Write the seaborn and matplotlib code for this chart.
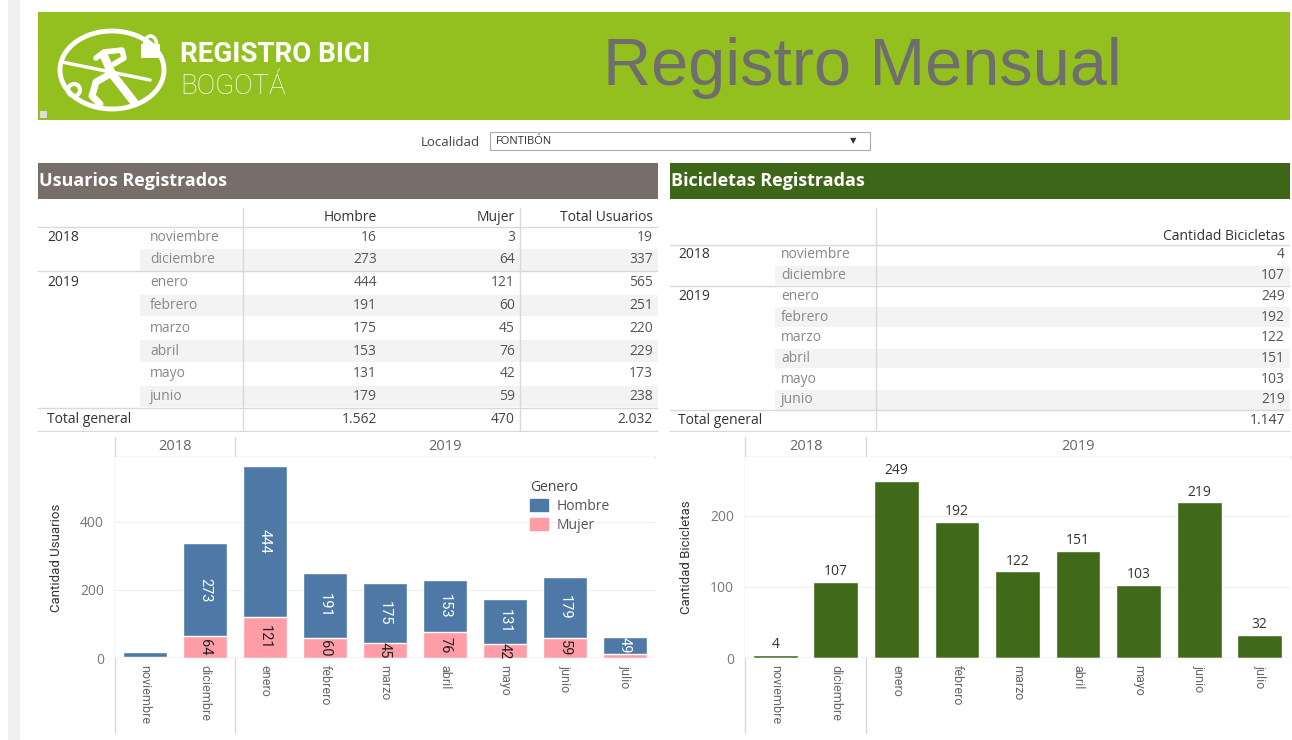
import pandas as pd
import seaborn as sns
import matplotlib.pyplot as plt
from matplotlib.patches import Rectangle, Ellipse, Arc, Circle, Patch

# datos del tablero (Localidad: FONTIBÓN)
meses = ['noviembre', 'diciembre', 'enero', 'febrero', 'marzo', 'abril', 'mayo', 'junio', 'julio']
anios = ['2018', '2018', '2019', '2019', '2019', '2019', '2019', '2019', '2019']
hombre = [16, 273, 444, 191, 175, 153, 131, 179, 49]
mujer = [3, 64, 121, 60, 45, 76, 42, 59, 13]
bicicletas = [4, 107, 249, 192, 122, 151, 103, 219, 32]
n_tabla = 8  # las tablas llegan hasta junio

AZUL = '#4E79A7'
ROSA = '#FF9DA7'
VERDE = '#41691A'
NARROW = ['Roboto', 'DejaVu Sans']

df = pd.DataFrame({'mes': meses, 'anio': anios, 'Hombre': hombre,
                   'Mujer': mujer, 'bicis': bicicletas})
df['total'] = df['Hombre'] + df['Mujer']

sns.set_theme(style='white')
plt.rcParams['font.family'] = ['Open Sans', 'DejaVu Sans']

W, H = 1292, 740
fig = plt.figure(figsize=(12.92, 7.40), dpi=100)
bg = fig.add_axes([0, 0, 1, 1])
bg.set_xlim(0, W)
bg.set_ylim(H, 0)
bg.axis('off')


def ax_at(x0, y0, x1, y1):
    return fig.add_axes([x0 / W, 1 - y1 / H, (x1 - x0) / W, (y1 - y0) / H])


def miles(v):
    return f'{v:,}'.replace(',', '.')


# franja izquierda
bg.add_patch(Rectangle((8, 0), 12, H, color='#F0F0F0', lw=0))

# encabezado
bg.add_patch(Rectangle((38, 12), 1252, 108, color='#93C01F', lw=0))
bg.add_patch(Rectangle((40, 111), 7, 7, color='#DDDDDD', lw=0))
bg.text(862, 68, 'Registro Mensual', fontsize=48, color='#6E6E6E',
        family='Liberation Sans', ha='center', va='center')

# logo
bg.add_patch(Ellipse((112, 70), 104, 78, fill=False, ec='white', lw=3.5))
bg.add_patch(Rectangle((141, 44), 19, 14, color='white', lw=0))
bg.add_patch(Arc((150.5, 44), 12, 16, theta1=180, theta2=360, color='white', lw=2.5))
bg.plot([62, 150], [62, 80], color='white', lw=2.5, solid_capstyle='round')
bg.plot([104, 112, 134], [56, 74, 102], color='white', lw=6, solid_capstyle='round')
bg.plot([96, 104, 122, 124, 114], [58, 52, 50, 58, 64], color='white', lw=4,
        solid_capstyle='round')
bg.plot([110, 96, 92, 100], [74, 82, 96, 104], color='white', lw=5, solid_capstyle='round')
bg.add_patch(Circle((74, 90), 6, fill=False, ec='white', lw=3))
bg.text(180, 54, 'REGISTRO BICI', fontsize=20, weight='bold', color='white',
        family=NARROW, va='center', ha='left')
bg.text(180, 86, 'BOGOTÁ', fontsize=20, weight='light', color='white',
        family=NARROW, va='center', ha='left')

# filtro
bg.text(480, 143, 'Localidad', fontsize=9.5, color='#444444', ha='right', va='center')
bg.add_patch(Rectangle((490, 132), 380, 18, facecolor='white', ec='#AAAAAA', lw=0.8))
bg.text(496, 141, 'FONTIBÓN', fontsize=8, color='#333333', va='center')
bg.text(853, 141, '▼', fontsize=6, color='#333333', va='center', ha='center',
        family='DejaVu Sans')

# titulos de seccion
bg.add_patch(Rectangle((38, 163), 620, 36, color='#776E6A', lw=0))
bg.text(39, 181, 'Usuarios Registrados', fontsize=13, weight='bold', color='white', va='center')
bg.add_patch(Rectangle((670, 163), 620, 36, color='#3E6618', lw=0))
bg.text(671, 181, 'Bicicletas Registradas', fontsize=13, weight='bold', color='white', va='center')

GRIS_L = '#D9D9D9'


def tabla_base(ax, x0, x1, xband, vlines, header_row):
    ax.set_xlim(x0, x1)
    ax.axis('off')
    for i in range(1, n_tabla, 2):
        ax.fill_between([xband, x1], i - 0.47, i + 0.47, color='#F3F3F3', lw=0)
    for yy in [header_row, 1.5, n_tabla - 0.5, n_tabla + 0.5]:
        ax.plot([x0, x1], [yy, yy], color=GRIS_L, lw=1)
    for xv in vlines:
        ax.axvline(xv, color=GRIS_L, lw=1)


# tabla usuarios
t1 = ax_at(38, 208, 658, 432)
t1.set_ylim(8.55, -1.28)
tabla_base(t1, 38, 658, 140, [243, 520], -0.45)
t1.text(377, -0.88, 'Hombre', ha='right', va='center', fontsize=10, color='#333333')
t1.text(515, -0.88, 'Mujer', ha='right', va='center', fontsize=10, color='#333333')
t1.text(653, -0.88, 'Total Usuarios', ha='right', va='center', fontsize=10, color='#333333')
prev = None
for i in range(n_tabla):
    if anios[i] != prev:
        t1.text(47, i, anios[i], va='center', fontsize=10, color='#333333')
        prev = anios[i]
    t1.text(150, i, meses[i], va='center', fontsize=10, color='#888888')
    t1.text(377, i, hombre[i], ha='right', va='center', fontsize=10, color='#555555')
    t1.text(515, i, mujer[i], ha='right', va='center', fontsize=10, color='#555555')
    t1.text(653, i, hombre[i] + mujer[i], ha='right', va='center', fontsize=10, color='#555555')
tot_h = sum(hombre[:n_tabla])
tot_m = sum(mujer[:n_tabla])
t1.text(47, n_tabla, 'Total general', va='center', fontsize=10, color='#333333')
t1.text(377, n_tabla, miles(tot_h), ha='right', va='center', fontsize=10, color='#444444')
t1.text(515, n_tabla, miles(tot_m), ha='right', va='center', fontsize=10, color='#444444')
t1.text(653, n_tabla, miles(tot_h + tot_m), ha='right', va='center', fontsize=10, color='#444444')

# tabla bicicletas
t2 = ax_at(670, 208, 1290, 432)
t2.set_ylim(8.55, -2.27)
tabla_base(t2, 670, 1290, 775, [876], -0.5)
t2.text(1285, -0.87, 'Cantidad Bicicletas', ha='right', va='center', fontsize=10, color='#333333')
prev = None
for i in range(n_tabla):
    if anios[i] != prev:
        t2.text(678, i, anios[i], va='center', fontsize=10, color='#333333')
        prev = anios[i]
    t2.text(781, i, meses[i], va='center', fontsize=10, color='#888888')
    t2.text(1285, i, bicicletas[i], ha='right', va='center', fontsize=10, color='#555555')
t2.text(678, n_tabla, 'Total general', va='center', fontsize=10, color='#333333')
t2.text(1285, n_tabla, miles(sum(bicicletas[:n_tabla])), ha='right', va='center',
        fontsize=10, color='#444444')


def estilo_grafico(ax, ymax, ticks, ylabel, x_left, x_right, x_div):
    ax.set_xlim(-0.5, len(meses) - 0.5)
    ax.set_ylim(0, ymax)
    ax.set_yticks(ticks)
    ax.tick_params(axis='y', labelsize=10, labelcolor='#777777', length=0, pad=8)
    ax.set_xticks(range(len(meses)))
    ax.set_xticklabels(meses, rotation=270, fontsize=9, color='#666666', family=NARROW)
    ax.tick_params(axis='x', length=0, pad=5)
    ax.set_xlabel('')
    ax.set_ylabel(ylabel, fontsize=9.5, color='#333333', family=NARROW)
    ax.yaxis.set_label_coords(-52 / (x_right - x_left), 0.5)
    for s in ax.spines.values():
        s.set_visible(False)
    ax.yaxis.grid(True, color='#EFEFEF', lw=0.8)
    ax.set_axisbelow(True)
    ax.axhline(0, color='#CCCCCC', lw=1)
    # encabezados de año sobre las columnas
    trans = ax.get_xaxis_transform()
    ax.text(0.5, 1.05, '2018', transform=trans, ha='center', va='center',
            fontsize=10.5, color='#666666')
    ax.text(5, 1.05, '2019', transform=trans, ha='center', va='center',
            fontsize=10.5, color='#666666')
    # lineas del marco
    bg.plot([x_left, x_left], [437, 733], color=GRIS_L, lw=1)
    bg.plot([x_div, x_div], [437, 733], color=GRIS_L, lw=1)
    bg.plot([x_left, x_right], [457, 457], color=GRIS_L, lw=1)


# grafico usuarios (apilado)
g1 = ax_at(115, 457, 655, 658)
sns.barplot(data=df, x='mes', y='total', color=AZUL, width=0.73, saturation=1, ax=g1)
sns.barplot(data=df, x='mes', y='Mujer', color=ROSA, width=0.73, saturation=1, ax=g1)
estilo_grafico(g1, 591, [0, 200, 400], 'Cantidad Usuarios', 115, 655, 235)
for i, (h, m) in enumerate(zip(hombre, mujer)):
    if h > 20:
        g1.text(i, m + h / 2, str(h), rotation=270, ha='center', va='center',
                fontsize=10.5, color='white', family=NARROW)
    if m > 20:
        g1.text(i, m / 2, str(m), rotation=270, ha='center', va='center',
                fontsize=10.5, color='#222222', family=NARROW)
handles = [Patch(color=AZUL, label='Hombre'), Patch(color=ROSA, label='Mujer')]
leg = g1.legend(handles=handles, title='Genero', loc='upper left',
                bbox_to_anchor=(0.745, 0.95), frameon=False, fontsize=10,
                title_fontsize=10, handlelength=1.3, handleheight=1.0,
                handletextpad=0.6, labelspacing=0.3, alignment='left')
for t in leg.get_texts():
    t.set_color('#555555')
leg.get_title().set_color('#444444')

# grafico bicicletas
g2 = ax_at(745, 457, 1290, 658)
sns.barplot(data=df, x='mes', y='bicis', color=VERDE, width=0.74, saturation=1, ax=g2)
estilo_grafico(g2, 283, [0, 100, 200], 'Cantidad Bicicletas', 745, 1290, 866)
g2.bar_label(g2.containers[0], fontsize=10, color='#333333', padding=2)

fig.savefig('out.png', dpi=100)
